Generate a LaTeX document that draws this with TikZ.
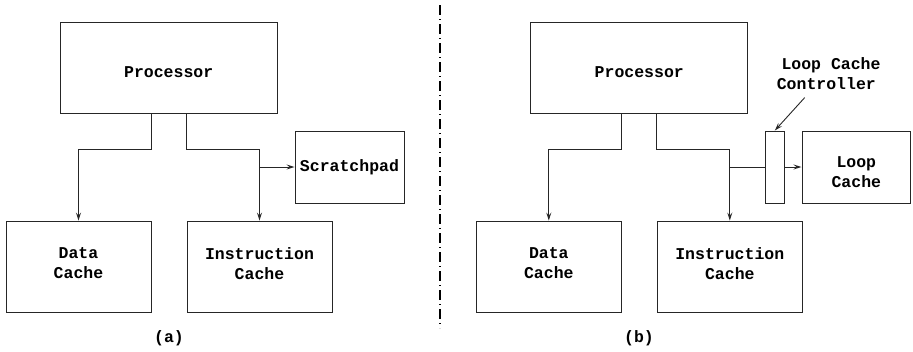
\documentclass[tikz,border=0pt]{standalone}
\usepackage{fontspec}
\setmainfont{Liberation Mono}
\usetikzlibrary{arrows.meta}
\begin{document}
\begin{tikzpicture}[x=1pt,y=-1pt,
  every node/.style={font=\fontsize{16.5}{20}\selectfont\bfseries},
  blk/.style={draw=black!85,line width=0.9pt,rectangle,align=center,inner sep=0pt},
  txt/.style={align=center,inner sep=0pt},
  wire/.style={draw=black!85,line width=0.9pt},
  arr/.style={wire,-{Stealth[length=8pt,width=5pt,inset=3pt,open]}}]
\useasboundingbox (0,0) rectangle (913,351);
% left panel
\node[blk,minimum width=217,minimum height=91,label={[txt,yshift=-4.5pt]center:Processor}] (P1) at (168.7,67.5) {};
\node[blk,minimum width=145,minimum height=91,label={[txt,yshift=3pt]center:Data\\Cache}] (D1) at (78.5,266.5) {};
\node[blk,minimum width=145,minimum height=91,label={[txt,yshift=3pt]center:Instruction\\Cache}] (I1) at (259.5,266.5) {};
\node[blk,minimum width=109,minimum height=72] (S1) at (349.5,167) {Scratchpad};
\draw[arr] (P1.south -| D1.east) -- ++(0,36) -| (D1.north);
\draw[arr] (P1.south -| I1.west) -- ++(0,36) -| (I1.north);
\draw[arr] (I1.north |- S1.west) -- (S1.west);
\node (la) at (169,338) {(a)};
% separator
\coordinate (sepT) at (440,5);
\coordinate (sepB) at (440,328);
\draw[black,line width=2pt,dash pattern=on 10pt off 4pt on 1pt off 4pt] (sepT) -- (sepB);
% right panel
\node[blk,minimum width=217,minimum height=91,label={[txt,yshift=-4.5pt]center:Processor}] (P2) at (639.3,67.5) {};
\node[blk,minimum width=145,minimum height=91,label={[txt,yshift=3pt]center:Data\\Cache}] (D2) at (548.8,266.5) {};
\node[blk,minimum width=145,minimum height=91,label={[txt,yshift=3pt]center:Instruction\\Cache}] (I2) at (729.8,266.5) {};
\node[blk,minimum width=18.3,minimum height=72] (C2) at (774.8,167) {};
\node[blk,minimum width=108.7,minimum height=72,label={[txt,yshift=-5.5pt]center:Loop\\Cache}] (L2) at (856.3,167) {};
\draw[arr] (P2.south -| D2.east) -- ++(0,36) -| (D2.north);
\draw[arr] (P2.south -| I2.west) -- ++(0,36) -| (I2.north);
\draw[wire] (I2.north |- C2.west) -- (C2.west);
\draw[arr] (C2.east) -- (L2.west);
\node (lcc1) at (831,65.5) {Loop Cache};
\node (lcc2) at (826.3,83.5) {Controller};
\draw[arr] ([xshift=-21.6pt,yshift=-4.5pt]lcc2.south) -- (C2.north);
\node (lb) at (639,338) {(b)};
\end{tikzpicture}
\end{document}
